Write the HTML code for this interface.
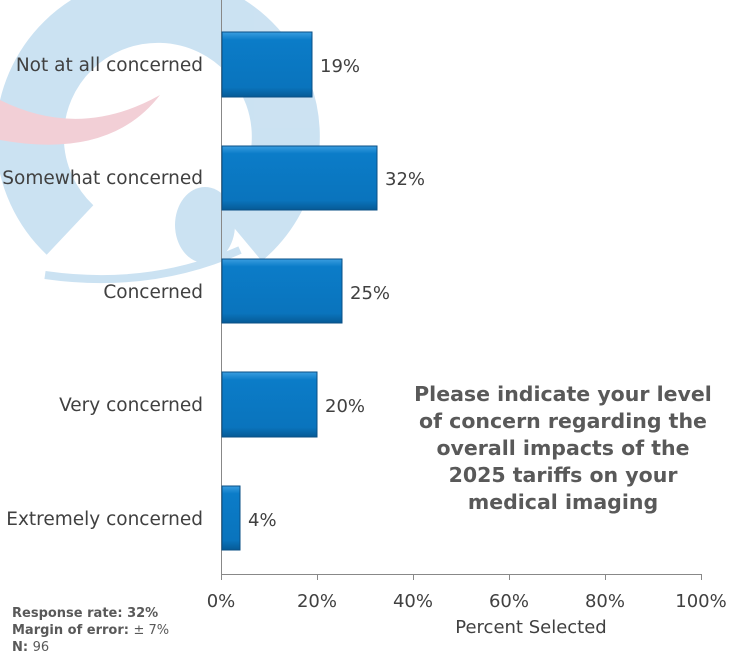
<!DOCTYPE html>
<html><head><style>
body{margin:0;background:#fff;width:738px;height:661px;overflow:hidden;font-family:"DejaVu Sans","Liberation Sans",sans-serif;}
</style></head><body>
<svg width="738" height="661" xmlns="http://www.w3.org/2000/svg" style="position:absolute;left:0;top:0">
<defs>
<linearGradient id="g" x1="0" y1="0" x2="0" y2="1">
<stop offset="0" stop-color="#3a9ee0"/><stop offset="0.12" stop-color="#0b7cc8"/><stop offset="0.85" stop-color="#0a74bd"/><stop offset="1" stop-color="#065a96"/>
</linearGradient>
</defs>
<!-- watermark -->
<g opacity="0.85">
<path d="M 240 235 A 128 128 0 1 0 70 230" fill="none" stroke="#c3ddf0" stroke-width="68"/>
<path d="M 45 275 Q 150 290 240 250" fill="none" stroke="#c3ddf0" stroke-width="8"/>
<ellipse cx="205" cy="225" rx="30" ry="38" fill="#c3ddf0"/>
<path d="M 0 100 Q 80 140 160 95 Q 110 160 0 140 Z" fill="#f0c7cf"/>
</g>
<!-- axes -->
<line x1="221.5" y1="0" x2="221.5" y2="580" stroke="#888" stroke-width="1"/>
<line x1="221" y1="574.5" x2="702" y2="574.5" stroke="#888" stroke-width="1"/>
<g stroke="#888">
<line x1="317.5" y1="574" x2="317.5" y2="580"/><line x1="413.5" y1="574" x2="413.5" y2="580"/>
<line x1="509.5" y1="574" x2="509.5" y2="580"/><line x1="605.5" y1="574" x2="605.5" y2="580"/><line x1="701.5" y1="574" x2="701.5" y2="580"/>
</g>
<!-- bars -->
<g stroke="#0a4f85" stroke-width="1">
<rect x="222" y="32" width="90" height="65" fill="url(#g)"/>
<rect x="222" y="146" width="155" height="64" fill="url(#g)"/>
<rect x="222" y="259" width="120" height="64" fill="url(#g)"/>
<rect x="222" y="372" width="95" height="65" fill="url(#g)"/>
<rect x="222" y="486" width="18" height="64" fill="url(#g)"/>
</g>
<g font-size="18.5" fill="#404040" text-anchor="end">
<text x="203" y="71">Not at all concerned</text>
<text x="203" y="184">Somewhat concerned</text>
<text x="203" y="298">Concerned</text>
<text x="203" y="411">Very concerned</text>
<text x="203" y="525">Extremely concerned</text>
</g>
<g font-size="18" fill="#404040">
<text x="320" y="72">19%</text>
<text x="385" y="185">32%</text>
<text x="350" y="299">25%</text>
<text x="325" y="412">20%</text>
<text x="248" y="526">4%</text>
</g>
<g font-size="18" fill="#404040" text-anchor="middle">
<text x="221" y="607">0%</text><text x="317" y="607">20%</text><text x="413" y="607">40%</text>
<text x="509" y="607">60%</text><text x="605" y="607">80%</text><text x="701" y="607">100%</text>
<text x="531" y="633">Percent Selected</text>
</g>
<g font-size="20.5" font-weight="bold" fill="#595959" text-anchor="middle">
<text x="563" y="401">Please indicate your level</text>
<text x="563" y="428">of concern regarding the</text>
<text x="563" y="455">overall impacts of the</text>
<text x="563" y="482">2025 tariffs on your</text>
<text x="563" y="509">medical imaging</text>
</g>
<g font-size="13" fill="#595959">
<text x="12" y="617"><tspan font-weight="bold">Response rate: 32%</tspan></text>
<text x="12" y="634"><tspan font-weight="bold">Margin of error: </tspan>± 7%</text>
<text x="12" y="651"><tspan font-weight="bold">N: </tspan>96</text>
</g>
</svg>
</body></html>
